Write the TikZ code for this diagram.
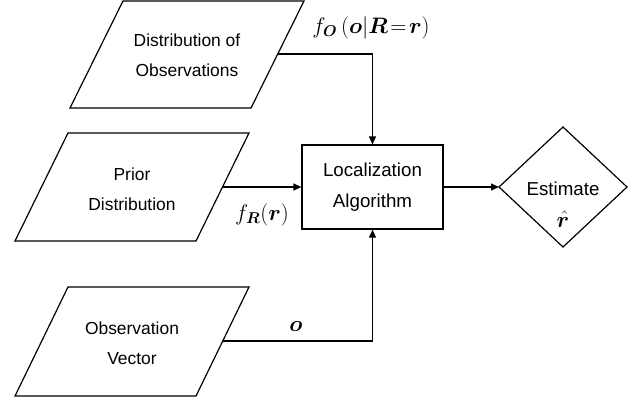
\RequirePackage{fix-cm}
\documentclass[tikz,border=0pt]{standalone}
\usepackage{amsmath}
\usepackage{bm}
\usepackage[no-math]{fontspec}
\setmainfont{Liberation Sans}
\usetikzlibrary{arrows.meta}
\begin{document}
\begin{tikzpicture}[x=1bp,y=-1bp,
  shapeline/.style={line width=1.2bp, line join=miter},
  conn/.style={line width=1.2bp, -{Triangle[length=8bp,width=7bp]}},
  lbl/.style={inner sep=0pt, align=center, font=\fontsize{17.5}{30}\selectfont},
  blbl/.style={inner sep=0pt, align=center, font=\fontsize{18.8}{31}\selectfont},
  mlbl/.style={inner sep=0pt, font=\fontsize{22.5}{26}\selectfont}]
\useasboundingbox (0,0) rectangle (634,402);
% parallelograms
\draw[shapeline] (123,1) -- (304,1) -- (251,108) -- (70,108) -- cycle;
\draw[shapeline] (68,133) -- (249,133) -- (196,241) -- (15,241) -- cycle;
\draw[shapeline] (68,287) -- (249,287) -- (196,396) -- (15,396) -- cycle;
\node[lbl] (dobs) at (187,55) {Distribution of\\Observations};
\node[lbl] (prior) at (132,189) {Prior\\Distribution};
\node[lbl] (ovec) at (132,343) {Observation\\Vector};
\coordinate (dobsr) at (278,54);
\coordinate (priorr) at (223,187);
\coordinate (ovecr) at (223,341);
% box
\node[draw, line width=1.2bp, minimum width=141bp, minimum height=84bp, inner sep=0pt,
  blbl] (alg) at (372.5,187) {Localization\\Algorithm};
% diamond
\draw[shapeline] (499,187) -- (563,127) -- (627,187) -- (563,247) -- cycle;
\coordinate (est) at (499,187);
\node[inner sep=0pt, font=\fontsize{18.8}{22}\selectfont, anchor=base] (esttxt) at (563,195) {Estimate};
\node[mlbl, anchor=base] (rhat) at (563,227) {$\hat{\bm r}$};
% connectors
\draw[conn] (dobsr) -| (alg.north);
\draw[conn] (priorr) -- (alg.west);
\draw[conn] (ovecr) -| (alg.south);
\draw[conn] (alg.east) -- (est);
% labels
\node[mlbl] (l1) at (371,28) {$f_{\bm O}\,(\bm o|\bm R\!=\!\bm r)$};
\node[mlbl] (l2) at (262,215) {$f_{\bm R}(\bm r)$};
\node[mlbl] (l3) at (296,327) {$\bm o$};
\end{tikzpicture}
\end{document}
